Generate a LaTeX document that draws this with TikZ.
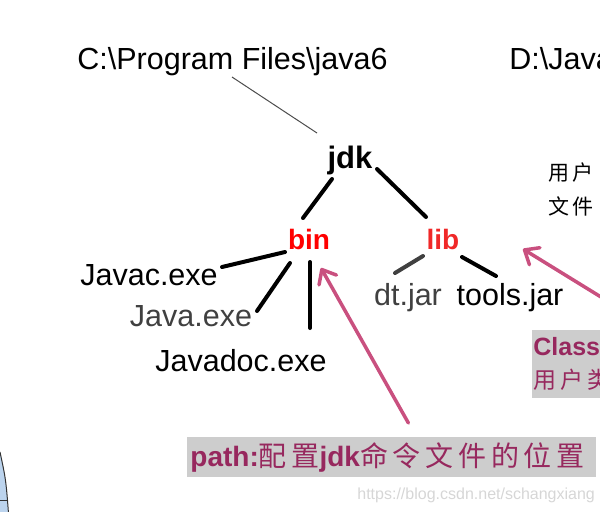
\documentclass[tikz,border=0pt]{standalone}
\usepackage{fontspec}
\setmainfont{Liberation Sans}
\newfontfamily\cjk[LetterSpace=17]{Noto Sans CJK SC}
\usetikzlibrary{calc, positioning, arrows.meta}
\definecolor{dirred}{HTML}{FF0000}
\definecolor{libred}{HTML}{F02828}
\definecolor{filegray}{HTML}{404040}
\definecolor{notegray}{HTML}{CDCDCD}
\definecolor{notetext}{HTML}{97285E}
\definecolor{hintpink}{HTML}{C9507F}
\definecolor{markgray}{HTML}{D6D6D6}
\definecolor{slideblue}{HTML}{BCD4EE}

\begin{document}
\begin{tikzpicture}
		[x=0.5pt, y=-0.5pt,
		every node/.style={inner sep=0pt},
		file/.style={font=\fontsize{15.25}{18}\selectfont},
		dir/.style={font=\bfseries\fontsize{14}{16}\selectfont, text=dirred},
		branch/.style={line width=2pt, line cap=round},
		hint/.style={-{Straight Barb[length=6pt, width=10pt, round]}, line width=1.75pt, hintpink, line cap=round},
		note/.style={fill=notegray, text=notetext, anchor=north west, align=left}]
		\useasboundingbox (0,0) rectangle (600,511);
		\clip (0,0) rectangle (600,511);
		% slide edge %
		\fill[slideblue] (-10,452) -- (0,452) .. controls (6,480) .. (9,520) -- (-10,520) -- cycle;
		\draw[line width=0.5pt, black!80] (0,452) .. controls (6,480) .. (9,520);
		\draw[line width=0.5pt, black!80] (-10,500) -- (7,500);

		% nodes %
		\node[file, anchor=base west] (progfiles) at (77,69) {C:\textbackslash Program Files\textbackslash java6};
		\node[file, anchor=base west] (javadir) at (509,69) {D:\textbackslash Java};
		\node[font=\bfseries\fontsize{15.5}{18}\selectfont, anchor=base] (jdk) at (350,168) {jdk};
		\node[dir, anchor=base] (bin) at (309,249) {bin};
		\node[dir, text=libred, anchor=base] (lib) at (443,249) {lib};
		\node[file, anchor=base] (javac) at (149,285) {Javac.exe};
		\node[file, text=filegray, anchor=base] (java) at (191,326) {Java.exe};
		\node[file, anchor=base] (javadoc) at (241,371) {Javadoc.exe};
		\node[file, text=filegray, anchor=base] (dt) at (408,305) {dt.jar};
		\node[file, anchor=base] (tools) at (510,305) {tools.jar};
		\node[font=\cjk\fontsize{10.5}{12}\selectfont, anchor=base west] (usera) at (548,180) {用户};
		\node[font=\cjk\fontsize{10.5}{12}\selectfont, anchor=base west] (userb) at (548,214) {文件};
		\node[note, minimum height=34pt, text width=80pt, inner xsep=0.5pt, font=\bfseries\fontsize{12.5}{16.5}\selectfont] (classnote) at (532,330) {Class\\{\cjk\mdseries\fontsize{11.5}{16.5}\selectfont 用户类}};
		\node[note, minimum height=20pt, text width=201.5pt, inner xsep=1.5pt, font=\bfseries\fontsize{14}{16}\selectfont] (pathnote) at (187,437) {path:{\cjk\mdseries\fontsize{14}{16}\selectfont 配置}jdk{\cjk\mdseries\fontsize{14}{16}\selectfont 命令文件的位置}};
		\node[text=markgray, font=\fontsize{8}{10}\selectfont, anchor=base west] (mark) at (357,499) {https://blog.csdn.net/schangxiang};

		% edges %
		\draw[line width=0.5pt, black!70] ($(progfiles.base west)+(155,8)$) -- ($(jdk.base)+(-33,-35)$);
		\draw[branch] ($(jdk.base)+(-18,11)$) -- ($(bin.base)+(-6,-31)$);
		\draw[branch] ($(jdk.base)+(27,1)$) -- ($(lib.base)+(-17,-32)$);
		\draw[branch] ($(javac.base)+(73,-18)$) -- ($(bin.base)+(-24,3)$);
		\draw[branch] ($(java.base)+(66,-15)$) -- ($(bin.base)+(-19,14)$);
		\draw[branch] ($(javadoc.base)+(69,-43)$) -- ($(bin.base)+(1,13)$);
		\draw[branch, filegray] ($(dt.base)+(-13,-32)$) -- ($(lib.base)+(-20,7)$);
		\draw[branch] ($(tools.base)+(-14,-29)$) -- ($(lib.base)+(19,8)$);
		\draw[hint] ($(pathnote.north)+(16.5,-14)$) -- ($(bin.base)+(12,19)$);
		\draw[hint] ($(classnote.north west)+(108,-9)$) -- ($(lib.base)+(80,0)$);
\end{tikzpicture}
\end{document}
